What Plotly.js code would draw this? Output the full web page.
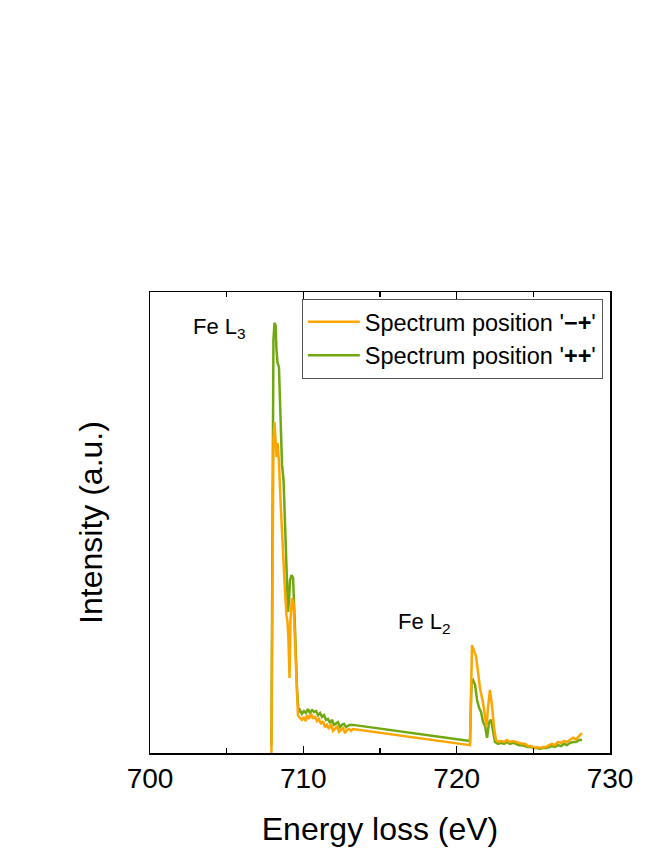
<!DOCTYPE html>
<html>
<head>
<meta charset="utf-8">
<script src="https://cdn.plot.ly/plotly-3.0.1.min.js"></script>
<style>
  html, body { margin: 0; padding: 0; background: #fff; }
  #chart { width: 664px; height: 860px; }
</style>
</head>
<body>
<div id="chart"></div>
<script>

// Spectrum position '-+' (orange)
const energyMinusPlus = [
    707.92, 708.05, 708.12, 708.19, 708.25, 708.32, 708.41, 708.54, 708.67, 708.80,
    708.90, 708.97, 709.03, 709.10, 709.16, 709.26, 709.36, 709.46, 709.55, 709.65,
    709.78, 709.91, 710.04, 710.14, 710.24, 710.37, 710.50, 710.63, 710.76, 710.89,
    711.02, 711.15, 711.28, 711.41, 711.54, 711.67, 711.80, 711.94, 712.07, 712.20,
    712.33, 712.46, 712.59, 712.72, 712.85, 712.98, 713.11, 713.24,
    720.87, 721.00, 721.10, 721.26, 721.39, 721.52, 721.72, 721.85, 721.95, 722.04,
    722.17, 722.30, 722.44, 722.57, 722.70, 722.89, 723.09, 723.28, 723.48, 723.67,
    723.87, 724.07, 724.26, 724.46, 724.65, 724.85, 725.04, 725.24, 725.44, 725.63,
    725.83, 726.02, 726.22, 726.41, 726.61, 726.81, 727.00, 727.20, 727.39, 727.59,
    727.78, 727.98, 728.18
];
const intensityMinusPlus = [
    0, 67.9, 71.8, 67.9, 64.2, 67.2, 63.1, 52.7, 42.9, 35.4,
    29.9, 28.4, 24.5, 16.3, 28.9, 33.6, 32.5, 24.5, 13.7, 8.2,
    7.6, 7.2, 7.8, 6.9, 8.2, 7.4, 8.5, 7.4, 8.0, 6.9,
    7.4, 6.3, 6.9, 5.6, 6.1, 5.2, 6.3, 4.8, 5.2, 5.9,
    4.6, 5.0, 5.4, 4.3, 5.0, 5.2, 4.8, 5.2,
    1.7, 23.4, 22.6, 21.0, 17.6, 14.1, 10.8, 8.0, 5.6, 9.8,
    13.7, 10.4, 5.4, 2.8, 2.4, 2.6, 2.4, 2.8, 2.4, 2.6,
    2.4, 2.2, 2.0, 2.0, 1.5, 1.5, 1.1, 1.3, 1.1, 1.3,
    1.3, 1.7, 2.0, 1.7, 2.4, 2.2, 2.6, 2.4, 2.8, 3.3,
    3.0, 3.7, 4.3
];

// Spectrum position '++' (green)
const energyPlusPlus = [
    707.92, 708.05, 708.12, 708.19, 708.25, 708.32, 708.41, 708.51, 708.61, 708.71,
    708.80, 708.87, 708.94, 709.00, 709.07, 709.13, 709.23, 709.33, 709.46, 709.59,
    709.69, 709.78, 709.91, 710.04, 710.17, 710.30, 710.43, 710.57, 710.70, 710.83,
    710.96, 711.09, 711.22, 711.35, 711.48, 711.61, 711.74, 711.87, 712.00, 712.13,
    712.26, 712.39, 712.52, 712.65, 712.78, 712.91, 713.04, 713.24,
    720.87, 720.97, 721.07, 721.20, 721.33, 721.46, 721.59, 721.72, 721.85, 721.98,
    722.11, 722.24, 722.37, 722.50, 722.70, 722.89, 723.09, 723.28, 723.48, 723.67,
    723.87, 724.07, 724.26, 724.46, 724.65, 724.85, 725.04, 725.24, 725.44, 725.63,
    725.83, 726.02, 726.22, 726.41, 726.61, 726.81, 727.00, 727.20, 727.39, 727.59,
    727.78, 727.98, 728.18
];
const intensityPlusPlus = [
    1.7, 89.6, 93.3, 92.8, 87.4, 84.6, 83.7, 70.1, 62.5, 59.2,
    50.5, 41.2, 36.4, 30.6, 33.2, 37.5, 38.6, 38.0, 26.7, 13.7,
    8.9, 9.3, 8.5, 9.1, 8.7, 9.5, 8.7, 9.3, 8.9, 9.1,
    8.2, 8.7, 7.8, 8.2, 7.2, 7.4, 6.5, 7.2, 6.1, 6.5,
    6.7, 5.6, 6.1, 6.3, 5.6, 5.9, 6.1, 6.1,
    2.6, 15.4, 15.8, 14.8, 11.5, 9.8, 8.9, 6.7, 5.9, 3.3,
    6.7, 7.2, 5.0, 2.4, 2.0, 2.2, 2.0, 2.4, 2.0, 2.2,
    2.0, 1.7, 1.7, 1.5, 1.3, 1.3, 1.1, 1.1, 0.9, 1.1,
    1.1, 1.3, 1.5, 1.3, 1.7, 1.5, 2.0, 1.7, 2.2, 2.4,
    2.4, 2.8, 2.8
];

const orange = 'rgb(255,165,0)';
const green = 'rgb(112,168,16)';
const font = 'Liberation Sans, Arial, sans-serif';

// green first so the orange line sits on top, legend order kept by legendrank
const data = [
    {
        type: 'scatter',
        mode: 'lines',
        name: "Spectrum position '<b>++</b>'",
        legendrank: 2,
        x: energyPlusPlus,
        y: intensityPlusPlus,
        line: { color: green, width: 2.5 }
    },
    {
        type: 'scatter',
        mode: 'lines',
        name: "Spectrum position '<b>\u2212+</b>'",
        legendrank: 1,
        x: energyMinusPlus,
        y: intensityMinusPlus,
        line: { color: orange, width: 2.5 }
    }
];

const layout = {
    width: 664,
    height: 860,
    margin: { l: 150, r: 54, t: 292, b: 107 },
    paper_bgcolor: '#fff',
    plot_bgcolor: '#fff',
    font: { family: font, color: '#000' },
    showlegend: true,
    xaxis: {
        range: [ 700, 730 ],
        dtick: 10,
        tick0: 700,
        ticks: 'inside',
        ticklen: 7,
        tickwidth: 1.5,
        tickcolor: '#000',
        minor: { dtick: 5, ticks: 'inside', ticklen: 5, tickwidth: 1.5, tickcolor: '#000' },
        showline: true,
        linewidth: 1.5,
        linecolor: '#000',
        mirror: 'ticks',
        showgrid: false,
        zeroline: false,
        tickfont: { size: 28, family: font },
        ticklabelstandoff: 0,
        title: { text: 'Energy loss (eV)', font: { size: 32, family: font }, standoff: 24 }
    },
    yaxis: {
        range: [ 0, 100 ],
        showticklabels: false,
        ticks: '',
        showline: true,
        linewidth: 1.5,
        linecolor: '#000',
        mirror: true,
        showgrid: false,
        zeroline: false,
        title: { text: 'Intensity (a.u.)', font: { size: 32, family: font }, standoff: 36 }
    },
    legend: {
        x: 0.330,
        y: 0.985,
        xanchor: 'left',
        yanchor: 'top',
        bgcolor: '#fff',
        bordercolor: '#555',
        borderwidth: 1,
        itemwidth: 52,
        font: { size: 23.5, family: font },
        tracegroupgap: 0
    },
    annotations: [
        {
            x: 704.5, y: 92.2, xref: 'x', yref: 'y',
            text: 'Fe L<sub>3</sub>',
            showarrow: false,
            font: { size: 22, family: font }
        },
        {
            x: 717.9, y: 28.2, xref: 'x', yref: 'y',
            text: 'Fe L<sub>2</sub>',
            showarrow: false,
            font: { size: 22, family: font }
        }
    ]
};

Plotly.newPlot( 'chart', data, layout, { displayModeBar: false, staticPlot: true } );

</script>
</body>
</html>
